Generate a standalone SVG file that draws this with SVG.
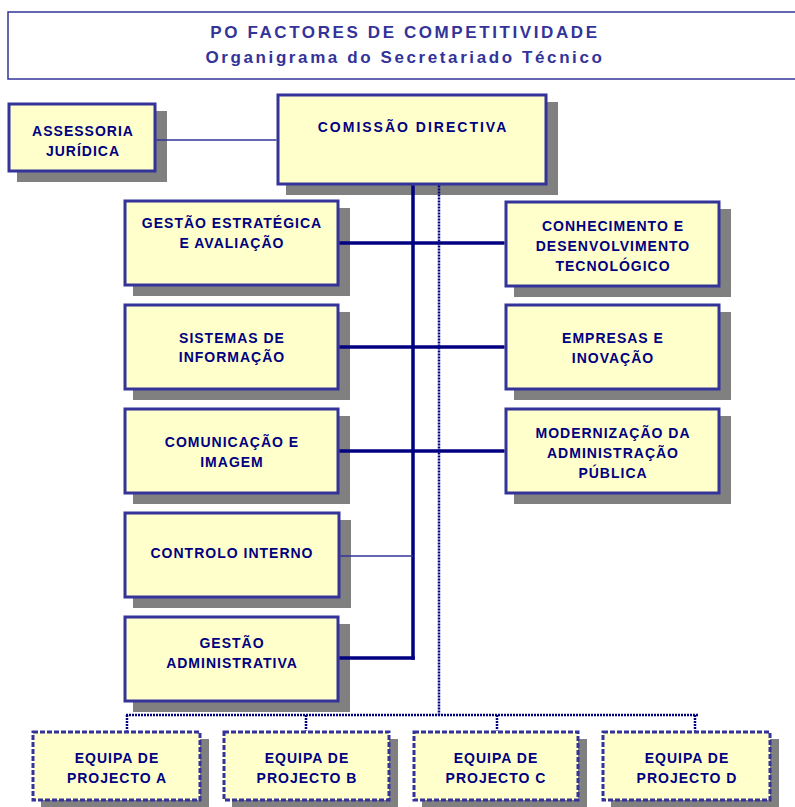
<svg xmlns="http://www.w3.org/2000/svg" width="795" height="807" viewBox="0 0 795 807">
<style>
.box{fill:#FFFFCC;stroke:#333399;stroke-width:3}
.dbox{fill:#FFFFCC;stroke:#333399;stroke-width:3;stroke-dasharray:5 2}
.sh{fill:#808080}
.t{font-family:"Liberation Sans",Arial,sans-serif;font-weight:bold;font-size:14px;letter-spacing:1px;fill:#000080;text-anchor:middle}
.title{font-family:"Liberation Sans",Arial,sans-serif;font-weight:bold;font-size:17px;letter-spacing:2.6px;fill:#333399;text-anchor:middle}
.thick{stroke:#000080;stroke-width:3.5;fill:none}
.thin{stroke:#333399;stroke-width:1.5;fill:none}
.dot{stroke:#000080;stroke-width:2.5;stroke-dasharray:2 1;fill:none}
</style>
<rect width="795" height="807" fill="#FFFFFF"/>
<g id="title">
<rect x="8" y="12" width="795" height="67" fill="#FFFFFF" stroke="#333399" stroke-width="1.5"/>
<text class="title" x="405" y="38">PO FACTORES DE COMPETITIVIDADE</text>
<text class="title" x="405" y="63">Organigrama do Secretariado Técnico</text>
</g>
<g id="assessoria">
<rect class="sh" x="17" y="111" width="150" height="71"/>
<rect class="box" x="9" y="104" width="146" height="67"/>
<text class="t" x="83" y="136">ASSESSORIA</text>
<text class="t" x="83" y="156">JURÍDICA</text>
</g>
<g id="comissao">
<rect class="sh" x="286" y="102" width="272" height="93"/>
<rect class="box" x="278" y="95" width="268" height="89"/>
<text class="t" x="413" y="132" style="letter-spacing:2px">COMISSÃO DIRECTIVA</text>
</g>
<g id="gestao-estrategica">
<rect class="sh" x="133" y="208" width="217" height="88"/>
<rect class="box" x="125" y="201" width="213" height="84"/>
<text class="t" x="232" y="228">GESTÃO ESTRATÉGICA</text>
<text class="t" x="232" y="248">E AVALIAÇÃO</text>
</g>
<g id="conhecimento">
<rect class="sh" x="514" y="209" width="217" height="88"/>
<rect class="box" x="506" y="202" width="213" height="84"/>
<text class="t" x="613" y="231">CONHECIMENTO E</text>
<text class="t" x="613" y="251">DESENVOLVIMENTO</text>
<text class="t" x="613" y="271">TECNOLÓGICO</text>
</g>
<g id="sistemas">
<rect class="sh" x="133" y="312" width="217" height="88"/>
<rect class="box" x="125" y="305" width="213" height="84"/>
<text class="t" x="232" y="343">SISTEMAS DE</text>
<text class="t" x="232" y="362">INFORMAÇÃO</text>
</g>
<g id="empresas">
<rect class="sh" x="514" y="312" width="217" height="88"/>
<rect class="box" x="506" y="305" width="213" height="84"/>
<text class="t" x="613" y="343">EMPRESAS E</text>
<text class="t" x="613" y="363">INOVAÇÃO</text>
</g>
<g id="comunicacao">
<rect class="sh" x="133" y="416" width="217" height="88"/>
<rect class="box" x="125" y="409" width="213" height="84"/>
<text class="t" x="232" y="447">COMUNICAÇÃO E</text>
<text class="t" x="232" y="467">IMAGEM</text>
</g>
<g id="modernizacao">
<rect class="sh" x="514" y="416" width="217" height="88"/>
<rect class="box" x="506" y="409" width="213" height="84"/>
<text class="t" x="613" y="438">MODERNIZAÇÃO DA</text>
<text class="t" x="613" y="458">ADMINISTRAÇÃO</text>
<text class="t" x="613" y="478">PÚBLICA</text>
</g>
<g id="controlo">
<rect class="sh" x="133" y="520" width="218" height="88"/>
<rect class="box" x="125" y="513" width="214" height="84"/>
<text class="t" x="232" y="558">CONTROLO INTERNO</text>
</g>
<g id="gestao-administrativa">
<rect class="sh" x="133" y="624" width="217" height="88"/>
<rect class="box" x="125" y="617" width="213" height="84"/>
<text class="t" x="232" y="648">GESTÃO</text>
<text class="t" x="232" y="668">ADMINISTRATIVA</text>
</g>
<g id="equipa-a">
<rect class="sh" x="41" y="739" width="168" height="70"/>
<rect class="dbox" x="33" y="732" width="167" height="68"/>
<text class="t" x="117" y="763">EQUIPA DE</text>
<text class="t" x="117" y="783">PROJECTO A</text>
</g>
<g id="equipa-b">
<rect class="sh" x="232" y="739" width="166" height="70"/>
<rect class="dbox" x="224" y="732" width="165" height="68"/>
<text class="t" x="307" y="763">EQUIPA DE</text>
<text class="t" x="307" y="783">PROJECTO B</text>
</g>
<g id="equipa-c">
<rect class="sh" x="422" y="739" width="165" height="70"/>
<rect class="dbox" x="414" y="732" width="164" height="68"/>
<text class="t" x="496" y="763">EQUIPA DE</text>
<text class="t" x="496" y="783">PROJECTO C</text>
</g>
<g id="equipa-d">
<rect class="sh" x="611" y="739" width="168" height="70"/>
<rect class="dbox" x="603" y="732" width="167" height="68"/>
<text class="t" x="687" y="763">EQUIPA DE</text>
<text class="t" x="687" y="783">PROJECTO D</text>
</g>
<g id="connectors">
<line class="thin" x1="156.5" y1="140" x2="276.5" y2="140"/>
<line class="thick" x1="413" y1="185.5" x2="413" y2="659.75"/>
<line class="thick" x1="339.5" y1="243" x2="504.5" y2="243"/>
<line class="thick" x1="339.5" y1="347" x2="504.5" y2="347"/>
<line class="thick" x1="339.5" y1="451" x2="504.5" y2="451"/>
<line class="thin" x1="340.5" y1="556" x2="413" y2="556"/>
<line class="thick" x1="339.5" y1="658" x2="414.75" y2="658"/>
<line class="dot" x1="439" y1="185.5" x2="439" y2="715"/>
<line class="dot" x1="126" y1="715" x2="698" y2="715"/>
<line class="dot" x1="127" y1="715" x2="127" y2="730.5"/>
<line class="dot" x1="306" y1="715" x2="306" y2="730.5"/>
<line class="dot" x1="497" y1="715" x2="497" y2="730.5"/>
<line class="dot" x1="695" y1="715" x2="695" y2="730.5"/>
</g>
</svg>
